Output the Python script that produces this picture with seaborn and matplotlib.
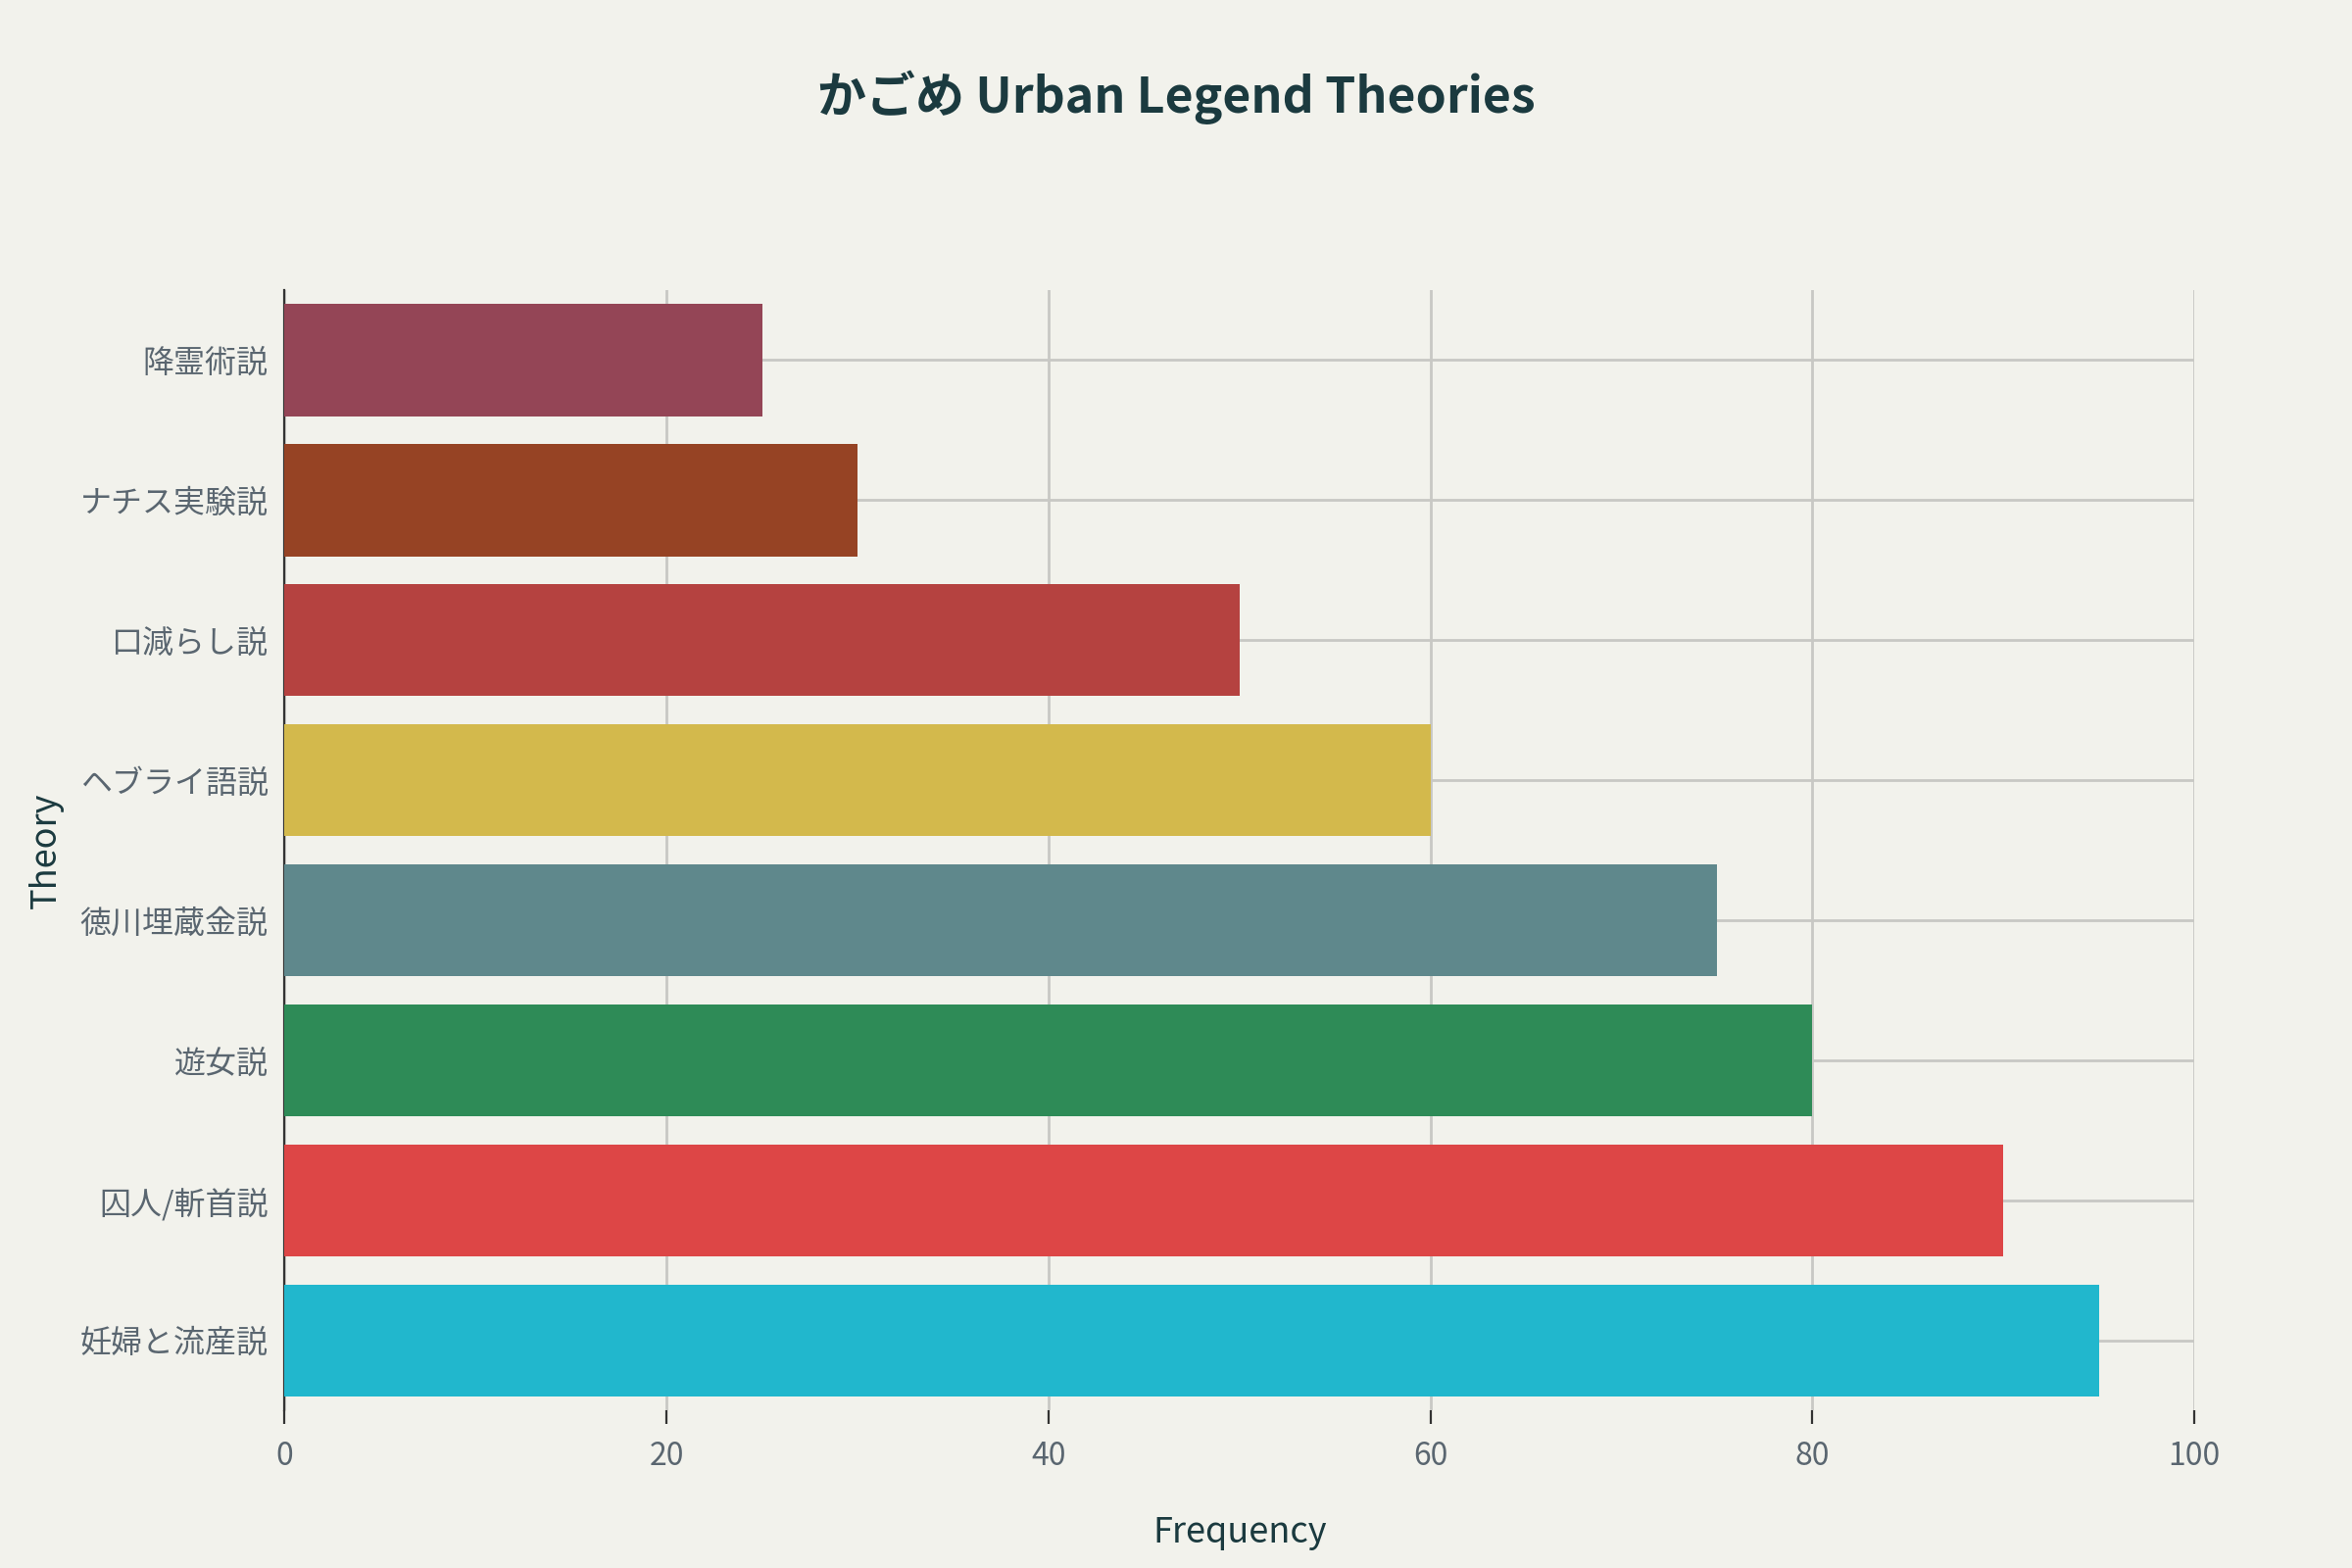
import matplotlib
matplotlib.use("Agg")
import matplotlib.pyplot as plt
import seaborn as sns
import pandas as pd

theories = ["降霊術説", "ナチス実験説", "口減らし説", "ヘブライ語説", "徳川埋蔵金説", "遊女説", "囚人/斬首説", "妊婦と流産説"]
frequency = [25, 30, 50, 60, 75, 80, 90, 95]
colors = ["#944556", "#964324", "#B54240", "#D3B94C", "#5F888C", "#2E8B57", "#DD4646", "#21B7CD"]

plt.rcParams["font.family"] = ["Noto Sans CJK JP", "DejaVu Sans"]
df = pd.DataFrame({"Theory": theories, "Frequency": frequency})

fig = plt.figure(figsize=(12, 8), dpi=200)
fig.patch.set_facecolor("#F2F2EC")
ax = fig.add_axes([0.121, 0.1005, 0.812, 0.7145])
ax.set_facecolor("#F2F2EC")
sns.barplot(data=df, y="Theory", x="Frequency", hue="Theory", palette=colors,
            order=theories, legend=False, ax=ax, width=0.8, saturation=1, zorder=3)
ax.set_xlim(0, 100)
ax.set_ylim(len(theories) - 0.5, -0.5)
ax.set_xticks([0, 20, 40, 60, 80, 100])
ax.grid(True, color="#C8C8C4", linewidth=1, zorder=0)
for s in ["top", "right", "bottom"]:
    ax.spines[s].set_visible(False)
ax.spines["left"].set_color("#333333")
ax.tick_params(axis="both", colors="#5A6670", labelsize=11.5, length=0, pad=6)
ax.tick_params(axis="x", length=5, color="#333333")
ax.set_xlabel("Frequency", fontsize=13, color="#1B3A3F", labelpad=16)
ax.set_ylabel("Theory", fontsize=13, color="#1B3A3F", labelpad=6)
fig.suptitle("かごめ Urban Legend Theories", fontsize=18, fontweight="bold", color="#1B3A3F", y=0.955)
fig.savefig("out.png", dpi=200, facecolor=fig.get_facecolor())
